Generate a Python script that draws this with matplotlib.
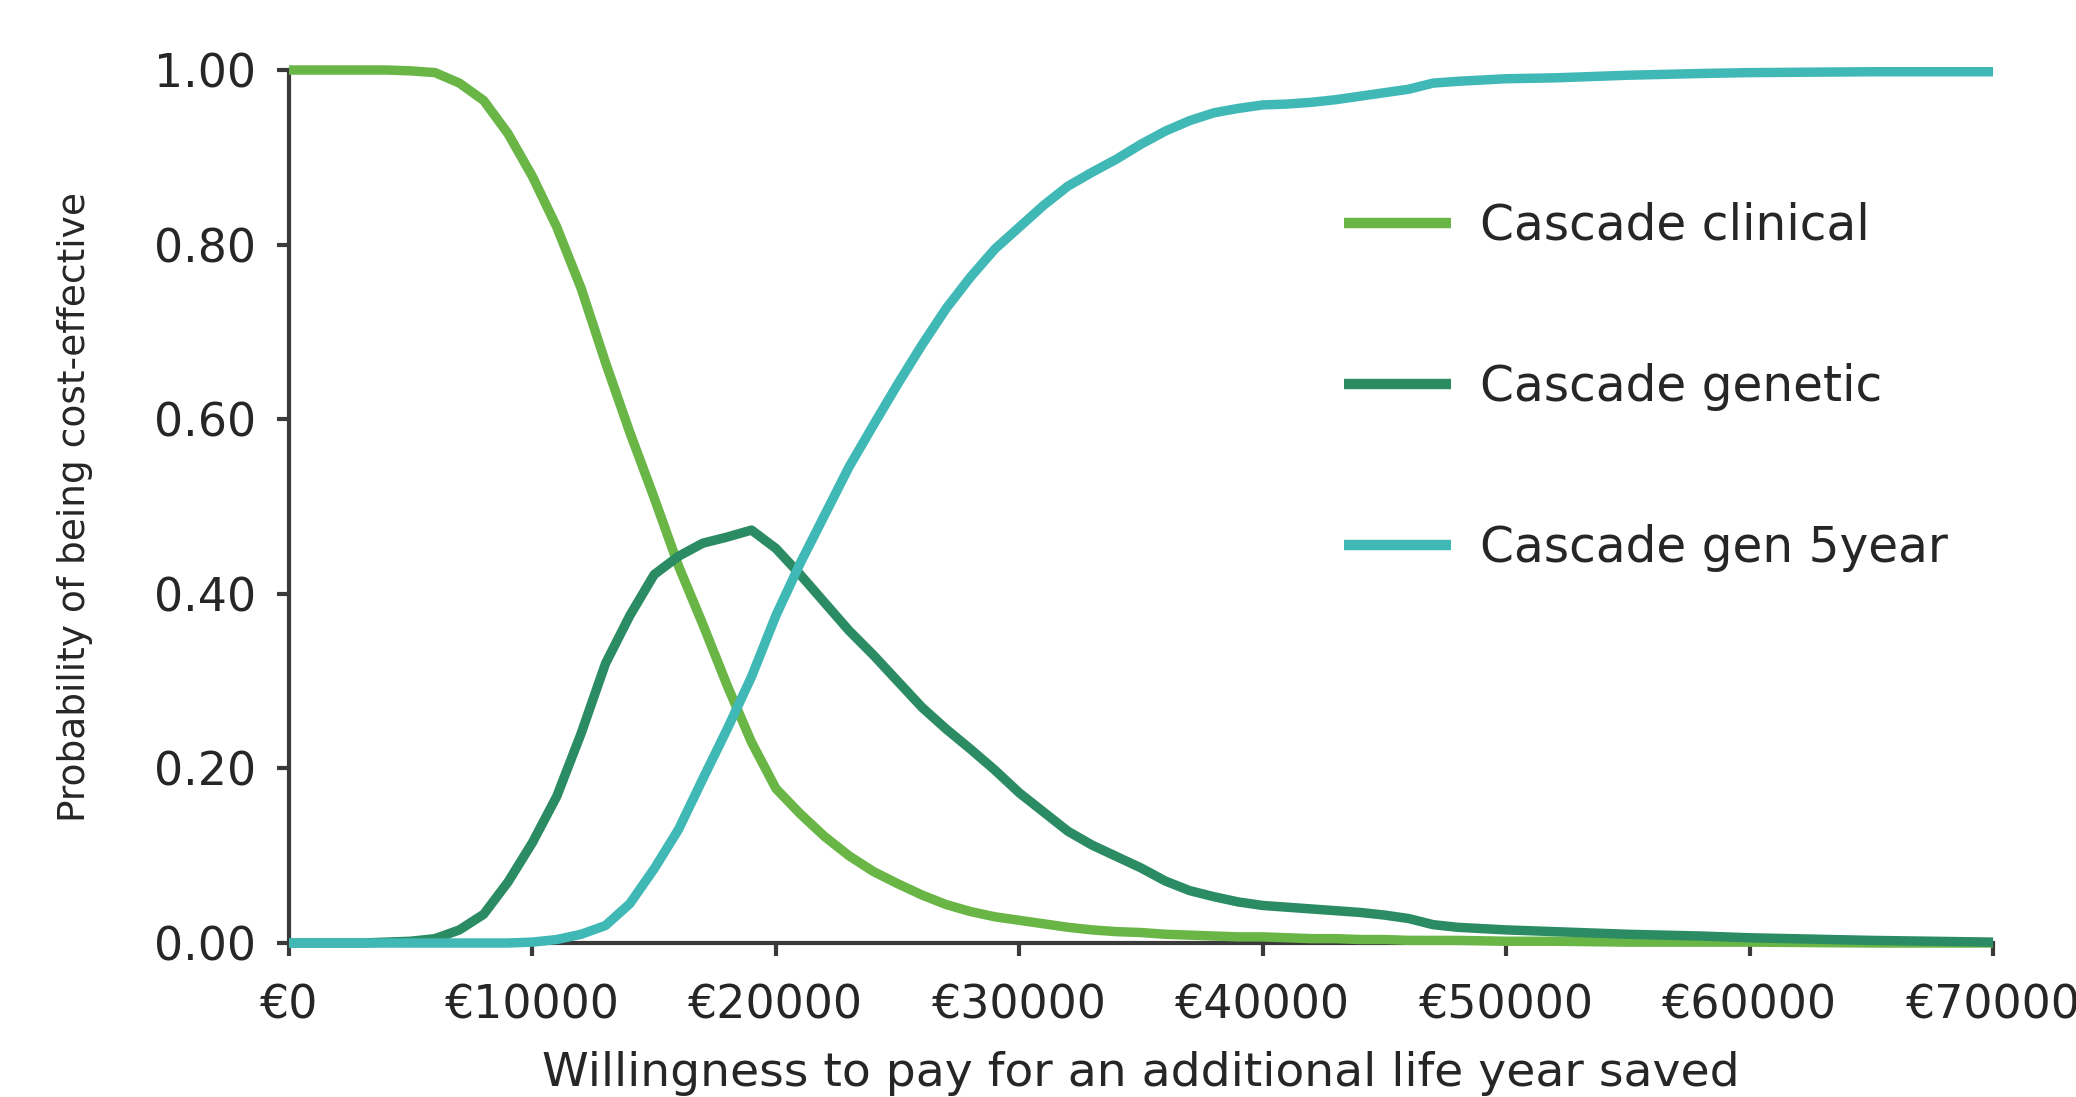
import matplotlib
matplotlib.use("Agg")
import matplotlib.pyplot as plt

# ---- data ----
wtp = [0, 1000, 2000, 3000, 4000, 5000, 6000, 7000, 8000, 9000,
       10000, 11000, 12000, 13000, 14000, 15000, 16000, 17000, 18000, 19000,
       20000, 21000, 22000, 23000, 24000, 25000, 26000, 27000, 28000, 29000,
       30000, 31000, 32000, 33000, 34000, 35000, 36000, 37000, 38000, 39000,
       40000, 41000, 42000, 43000, 44000, 45000, 46000, 47000, 48000, 50000,
       52000, 55000, 58000, 60000, 65000, 70000]

cascade_clinical = [1.000, 1.000, 1.000, 1.000, 1.000, 0.999, 0.997, 0.985, 0.965, 0.927,
                    0.878, 0.820, 0.750, 0.665, 0.585, 0.510, 0.432, 0.365, 0.295, 0.230,
                    0.177, 0.148, 0.122, 0.100, 0.082, 0.068, 0.055, 0.044, 0.036, 0.030,
                    0.026, 0.022, 0.018, 0.015, 0.013, 0.012, 0.010, 0.009, 0.008, 0.007,
                    0.007, 0.006, 0.005, 0.005, 0.004, 0.004, 0.003, 0.003, 0.003, 0.002,
                    0.002, 0.001, 0.001, 0.001, 0.000, 0.000]

cascade_genetic = [0.000, 0.000, 0.000, 0.000, 0.001, 0.002, 0.005, 0.015, 0.033, 0.070,
                   0.115, 0.168, 0.240, 0.320, 0.375, 0.422, 0.443, 0.458, 0.465, 0.473,
                   0.452, 0.422, 0.390, 0.358, 0.330, 0.300, 0.270, 0.245, 0.222, 0.198,
                   0.172, 0.150, 0.128, 0.112, 0.099, 0.086, 0.071, 0.060, 0.053, 0.047,
                   0.043, 0.041, 0.039, 0.037, 0.035, 0.032, 0.028, 0.021, 0.018, 0.015,
                   0.013, 0.010, 0.008, 0.006, 0.003, 0.001]

cascade_gen_5year = [0.000, 0.000, 0.000, 0.000, 0.000, 0.000, 0.000, 0.000, 0.000, 0.000,
                     0.001, 0.004, 0.010, 0.020, 0.045, 0.085, 0.130, 0.188, 0.245, 0.305,
                     0.375, 0.435, 0.490, 0.545, 0.593, 0.640, 0.685, 0.727, 0.763, 0.795,
                     0.820, 0.845, 0.867, 0.883, 0.898, 0.915, 0.930, 0.942, 0.951, 0.956,
                     0.960, 0.961, 0.963, 0.966, 0.970, 0.974, 0.978, 0.985, 0.987, 0.990,
                     0.991, 0.994, 0.996, 0.997, 0.998, 0.998]

series_names = ["Cascade clinical", "Cascade genetic", "Cascade gen 5year"]
series_colors = ["#69b545", "#2b8c63", "#3fb8b6"]

x_ticks = [0, 10000, 20000, 30000, 40000, 50000, 60000, 70000]
x_tick_labels = ["€0", "€10000", "€20000", "€30000", "€40000", "€50000", "€60000", "€70000"]
y_ticks = [0.0, 0.2, 0.4, 0.6, 0.8, 1.0]
y_tick_labels = ["0.00", "0.20", "0.40", "0.60", "0.80", "1.00"]

x_label = "Willingness to pay for an additional life year saved"
y_label = "Probability of being cost-effective"

# ---- figure ----
plt.rcParams['font.family'] = ['DejaVu Sans']
text_color = "#262626"
axis_color = "#3a3a3a"

fig = plt.figure(figsize=(20.76, 10.97), dpi=100)
fig.subplots_adjust(left=289/2076, right=1993/2076, bottom=1-943/1097, top=1-70/1097)
ax = fig.add_subplot(111)

series = [cascade_clinical, cascade_genetic, cascade_gen_5year]
handles = []
for name, vals, col in zip(series_names, series, series_colors):
    h, = ax.plot(wtp, vals, color=col, lw=6.8, label=name, clip_on=False,
                 zorder=5, solid_capstyle='butt', solid_joinstyle='round')
    handles.append(h)

ax.set_xlim(0, 70000)
ax.set_ylim(0, 1.0)

for s in ["top", "right"]:
    ax.spines[s].set_visible(False)
for s in ["left", "bottom"]:
    ax.spines[s].set_color(axis_color)
    ax.spines[s].set_linewidth(3)
    ax.spines[s].set_zorder(3)

ax.set_xticks(x_ticks)
ax.set_xticklabels(x_tick_labels)
ax.set_yticks(y_ticks)
ax.set_yticklabels(y_tick_labels)
ax.tick_params(axis='both', direction='out', length=9, width=3, color=axis_color,
               labelcolor=text_color, labelsize=33)
ax.tick_params(axis='y', pad=15)
ax.tick_params(axis='x', pad=20)

ax.set_xlabel(x_label, fontsize=34, color=text_color, va='center')
ax.xaxis.set_label_coords(0.5, -0.149)
ax.set_ylabel(y_label, fontsize=27, color=text_color, va='center')
ax.yaxis.set_label_coords(-0.1256, 0.5)

leg = ax.legend(handles=handles, loc='center left',
                bbox_to_anchor=(1344/2076, 1-387/1097), bbox_transform=fig.transFigure,
                frameon=False, fontsize=35, handlelength=2.2, handletextpad=0.6,
                labelspacing=2.33, borderpad=0, borderaxespad=0)
for t in leg.get_texts():
    t.set_color(text_color)
for lh in leg.get_lines():
    lh.set_linewidth(7.5)

fig.savefig("out.png", dpi=100)
